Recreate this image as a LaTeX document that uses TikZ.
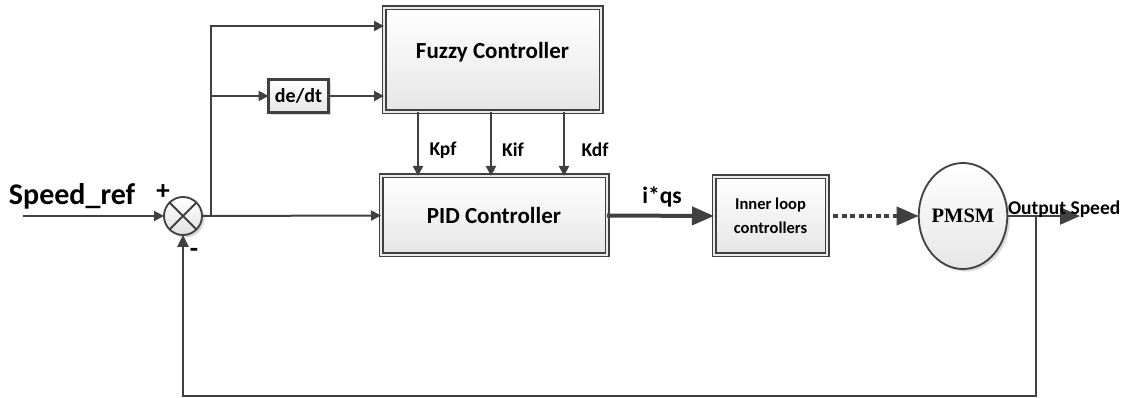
\documentclass[tikz,border=0pt]{standalone}
\usepackage{fontspec}
\setmainfont{Carlito}
\newfontfamily\pmsmfont{Liberation Serif}
\usetikzlibrary{arrows.meta,shapes.geometric,shadows}
\definecolor{ln}{HTML}{404040}
\newcommand\fs[1]{\bfseries\fontsize{#1}{#1}\selectfont}
\begin{document}
\begin{tikzpicture}[x=1pt,y=-1pt,
  every node/.style={inner sep=0pt, outer sep=0pt},
  shade/.style={top color=white, bottom color=black!10},
  shdw/.style={drop shadow={shadow xshift=2.5pt, shadow yshift=-2.5pt, fill=black!30, opacity=0.5}},
  blk/.style={draw=ln, line width=1.8pt, double=black!8, double distance=1.4pt, shade, shdw},
  dbox/.style={draw=ln, line width=2.6pt, shade, shdw},
  wire/.style={draw=ln, line width=2pt},
  arr/.style={wire, -{Triangle[length=10pt,width=10pt]}},
  bigarr/.style={draw=ln, line width=4pt, -{Triangle[length=22pt,width=18pt]}},
  lbl/.style={font=\fs{19.5}},
]
\useasboundingbox (0,0) rectangle (1125,398);
\fill[white] (0,0) rectangle (1125,398);

% blocks
\node[blk, minimum width=217, minimum height=104] (fuzzy) at (492.5,60) {};
\node[font=\fs{23}] (fuzzytxt) at (492.5,52) {Fuzzy Controller};
\node[blk, minimum width=226, minimum height=79, font=\fs{23}] (pid) at (494,215.5) {PID Controller};
\node[blk, minimum width=113, minimum height=78, align=center, font=\bfseries\fontsize{16.5}{24}\selectfont] (inner) at (770.5,216) {Inner loop\\controllers};
\node[dbox, minimum width=60, minimum height=33, font=\fs{20}] (dedt) at (298.5,96) {de/dt};
\node[ellipse, draw=ln, line width=1.8pt, minimum width=86, minimum height=106, shade, shdw, font=\pmsmfont\fs{20.5}] (pmsm) at (963,216) {PMSM};

% summing junction
\node[circle, draw=ln, line width=1.8pt, minimum size=38, top color=white, bottom color=black!12, shdw] (sum) at (183,216) {};
\draw[ln, line width=1.8pt] (sum.north west) -- (sum.south east) (sum.north east) -- (sum.south west);

% helper points
\coordinate (in) at (23,216);
\coordinate (br) at (211,216);
\coordinate (kx1) at (418,0);
\coordinate (kx2) at (491,0);
\coordinate (kx3) at (564,0);
\coordinate (fb) at (1036,216);
\coordinate (out) at (1080,216);
\coordinate (bot) at (0,396);

% reference input and error paths
\draw[arr] (in) -- (sum.west);
\draw[arr] (sum.east) -- (pid.west);
\draw[arr] (br) |- ([yshift=-18pt]fuzzy.north west);
\draw[arr] (br |- dedt.west) -- (dedt.west);
\draw[arr] (dedt.east) -- (dedt.east -| fuzzy.west);

% gain scheduling outputs
\draw[arr] (fuzzy.south -| kx1) -- (pid.north -| kx1);
\draw[arr] (fuzzy.south -| kx2) -- (pid.north -| kx2);
\draw[arr] (fuzzy.south -| kx3) -- (pid.north -| kx3);

% forward path
\draw[bigarr] (pid.east) -- (inner.west);
\draw[draw=ln, line width=4pt, dash pattern=on 5pt off 3.5pt, shorten <=6pt, -{Triangle[length=22pt,width=18pt]}] (inner.east) -- (pmsm.west);
\draw[draw=ln, line width=2.4pt, -{Triangle[length=20pt,width=17pt]}] (pmsm.east) -- (out);

% feedback
\draw[draw=ln, line width=2.6pt, -{Triangle[length=12pt,width=11pt]}] (fb) -- (fb |- bot) -| (sum.south);

% labels
\node[font=\fs{30}, anchor=base west] (sref) at (9,205) {Speed\_ref};
\node[font=\fs{27}] (plus) at (163,192) {+};
\node[font=\fs{27}] (minus) at (194,253) {-};
\node[lbl] (kpf) at (443,150) {Kpf};
\node[lbl] (kif) at (513,150) {Kif};
\node[lbl] (kdf) at (595,150) {Kdf};
\node[font=\fs{23.5}] (iqs) at (662,197) {i*qs};
\node[font=\fs{19.5}, anchor=base west] (outs) at (1008,215) {Output Speed};
\end{tikzpicture}
\end{document}
